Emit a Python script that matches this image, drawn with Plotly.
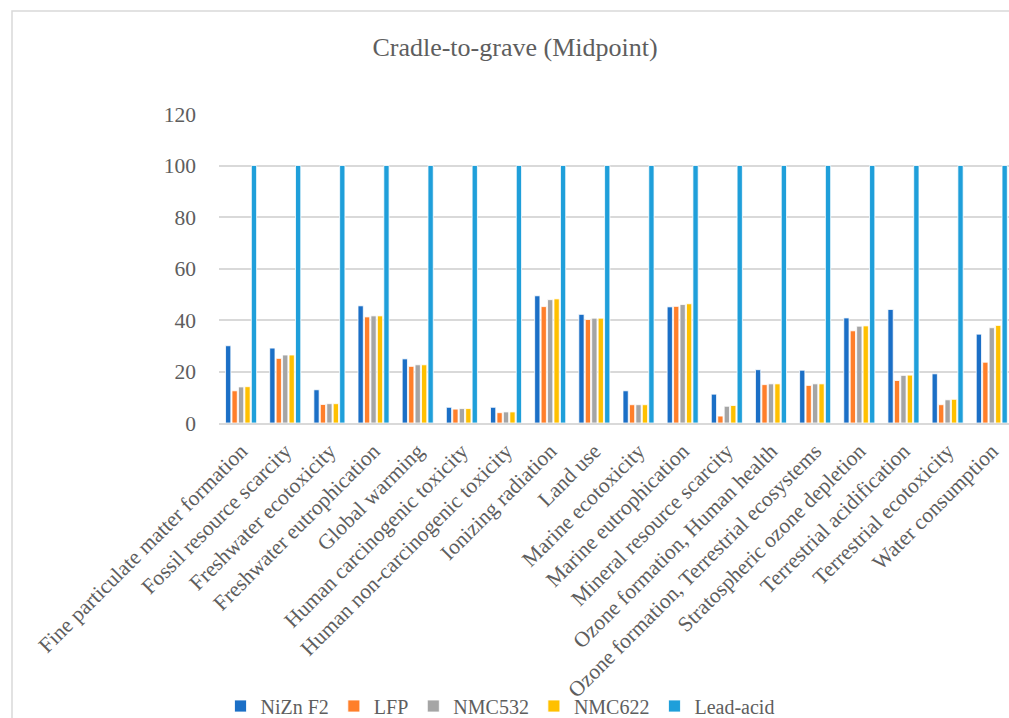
import plotly.graph_objects as go

categories = [
    "Fine particulate matter formation",
    "Fossil resource scarcity",
    "Freshwater ecotoxicity",
    "Freshwater eutrophication",
    "Global warming",
    "Human carcinogenic toxicity",
    "Human non-carcinogenic toxicity",
    "Ionizing radiation",
    "Land use",
    "Marine ecotoxicity",
    "Marine eutrophication",
    "Mineral resource scarcity",
    "Ozone formation, Human health",
    "Ozone formation, Terrestrial ecosystems",
    "Stratospheric ozone depletion",
    "Terrestrial acidification",
    "Terrestrial ecotoxicity",
    "Water consumption",
]

nizn_f2 = [30.0, 29.1, 12.9, 45.5, 24.9, 6.1, 6.1, 49.4, 42.2, 12.5, 45.1, 11.2, 20.7, 20.5, 40.8, 44.1, 19.1, 34.5]
lfp = [12.5, 25.1, 7.2, 41.2, 22.0, 5.4, 4.0, 45.2, 40.2, 7.1, 45.3, 2.7, 14.9, 14.6, 35.8, 16.5, 7.1, 23.6]
nmc532 = [14.0, 26.4, 7.5, 41.6, 22.6, 5.6, 4.3, 47.9, 40.7, 7.1, 46.0, 6.5, 15.2, 15.2, 37.6, 18.5, 9.0, 37.0]
nmc622 = [14.1, 26.4, 7.5, 41.6, 22.6, 5.6, 4.3, 48.2, 40.7, 7.1, 46.3, 6.8, 15.2, 15.2, 37.7, 18.6, 9.2, 37.9]
lead_acid = [100] * 18

series = [
    ("NiZn F2", nizn_f2, "#1B6FC6"),
    ("LFP", lfp, "#FF7F2A"),
    ("NMC532", nmc532, "#A5A5A5"),
    ("NMC622", nmc622, "#FFC000"),
    ("Lead-acid", lead_acid, "#1F9FDA"),
]

FONT = "Liberation Serif"
GREY = "#5E5E5E"

fig = go.Figure()
for name, vals, color in series:
    fig.add_trace(go.Bar(
        name=name, x=list(range(len(categories))), y=vals,
        marker=dict(color=color, line=dict(color="white", width=0.8)),
    ))

W, H = 1009, 718
ml, mr, mt, mb = 219, 0, 114, 295
pw = W - ml - mr
ph = H - mt - mb

def px_to_paper_x(px):
    return (px - ml) / pw

def px_to_paper_y(py):
    return (H - mb - py) / ph

fig.update_layout(
    width=W, height=H,
    margin=dict(l=ml, r=mr, t=mt, b=mb, pad=0, autoexpand=False),
    paper_bgcolor="white", plot_bgcolor="white",
    barmode="group", bargap=0.27, bargroupgap=0.18,
    font=dict(family=FONT, color=GREY, size=20),
    title=dict(text="Cradle-to-grave (Midpoint)", x=515 / W, xref="container", xanchor="center",
               y=1 - 47 / H, yref="container", yanchor="middle",
               font=dict(family=FONT, size=26, color=GREY)),
    xaxis=dict(
        tickmode="array", tickvals=list(range(len(categories))), ticktext=categories,
        tickangle=-45, range=[-0.5, 17.39], automargin=False,
        showgrid=False, showline=True, linecolor="#D9D9D9", linewidth=2,
        ticks="", tickfont=dict(family=FONT, size=21.5, color=GREY),
        zeroline=False, ticklabelstandoff=5,
    ),
    yaxis=dict(
        range=[0, 120], tickvals=[0, 20, 40, 60, 80, 100, 120], automargin=False,
        showgrid=True, gridcolor="#D9D9D9", gridwidth=1.5,
        zeroline=False, showline=False, ticks="",
        tickfont=dict(family=FONT, size=21.5, color=GREY),
        ticklabelstandoff=22,
    ),
    legend=dict(orientation="h", x=px_to_paper_x(500), xanchor="center",
                y=px_to_paper_y(706), yanchor="middle",
                itemwidth=30, tracegroupgap=0, bgcolor="rgba(0,0,0,0)"),
    legend_font_family="Liberation Serif",
    legend_font_size=20,
    legend_font_color=GREY,
    showlegend=True,
)

fig.add_shape(type="rect", xref="paper", yref="paper",
              x0=px_to_paper_x(12), x1=px_to_paper_x(1030),
              y0=px_to_paper_y(740), y1=px_to_paper_y(11),
              line=dict(color="#D9D9D9", width=1.5), layer="below")

fig.write_html("out.html")
